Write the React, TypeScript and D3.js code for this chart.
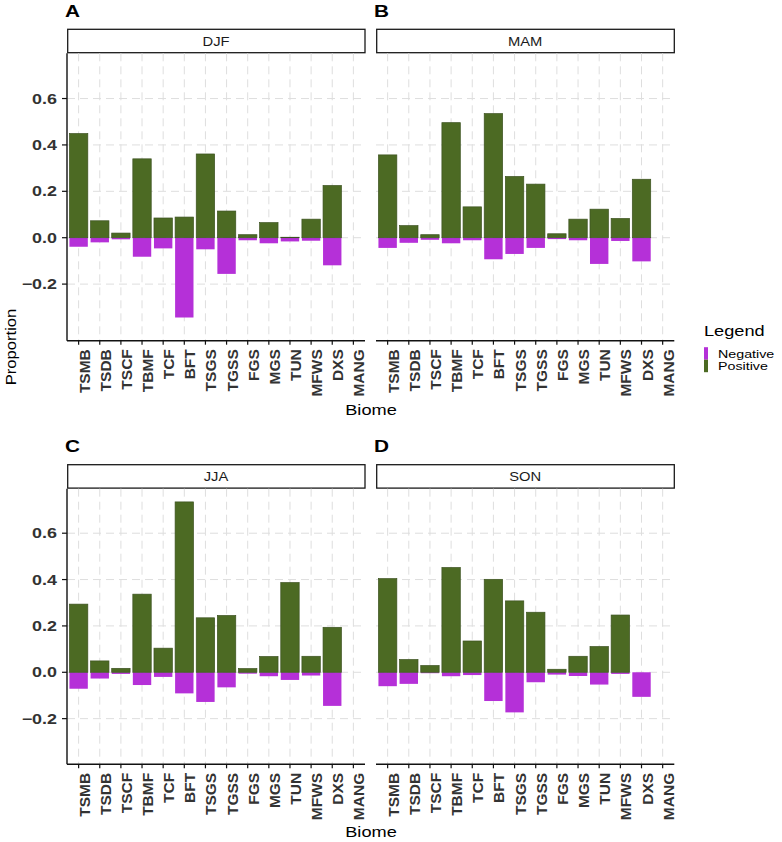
import * as d3 from "d3";

const biomes = ["TSMB", "TSDB", "TSCF", "TBMF", "TCF", "BFT", "TSGS", "TGSS", "FGS", "MGS", "TUN", "MFWS", "DXS", "MANG"];

// proportions, one pair of arrays per season
const djfPositive = [0.449, 0.073, 0.02, 0.34, 0.085, 0.089, 0.361, 0.115, 0.013, 0.065, 0.002, 0.08, 0.225, 0];
const djfNegative = [-0.039, -0.02, -0.007, -0.082, -0.046, -0.344, -0.05, -0.156, -0.011, -0.024, -0.016, -0.013, -0.119, 0];
const mamPositive = [0.357, 0.052, 0.013, 0.496, 0.133, 0.535, 0.264, 0.231, 0.017, 0.08, 0.123, 0.083, 0.252, 0];
const mamNegative = [-0.044, -0.022, -0.009, -0.024, -0.011, -0.093, -0.07, -0.044, -0.006, -0.011, -0.113, -0.014, -0.102, 0];
const jjaPositive = [0.294, 0.049, 0.017, 0.337, 0.104, 0.735, 0.235, 0.245, 0.016, 0.068, 0.387, 0.069, 0.194, 0];
const jjaNegative = [-0.071, -0.027, -0.007, -0.055, -0.02, -0.091, -0.128, -0.065, -0.006, -0.017, -0.033, -0.014, -0.145, 0];
const sonPositive = [0.404, 0.055, 0.029, 0.452, 0.135, 0.401, 0.308, 0.259, 0.013, 0.069, 0.111, 0.247, 0, 0];
const sonNegative = [-0.06, -0.05, -0.004, -0.017, -0.012, -0.124, -0.173, -0.043, -0.01, -0.016, -0.053, -0.007, -0.106, 0];

const yTicks = [-0.2, 0, 0.2, 0.4, 0.6];
const legendLabels = ["Negative", "Positive"];

const POS = "#4c6a23";
const NEG = "#b530d8";
const GRID = "#dedede";
const TEXT = "#333333";
const FONT = "'Liberation Sans', Arial, sans-serif";

type PanelProps = {
  letter: string;
  season: string;
  positive: number[];
  negative: number[];
  x0: number;
  x1: number;
  top: number;
  bottom: number;
  domain: [number, number];
  leftAxis: boolean;
};

function Panel(p: PanelProps) {
  const x = d3.scalePoint<string>().domain(biomes).range([p.x0, p.x1]).padding(0.55);
  const y = d3.scaleLinear().domain(p.domain).range([p.bottom, p.top]);
  const bw = x.step() * 0.87;
  const fmt = d3.format(".1f");
  const stripTop = p.top - 24;

  return (
    <g>
      <text
        transform={`translate(${p.x0 - 2},${p.top - 36.5}) scale(1.26,1)`}
        fontSize={16.5}
        fontWeight="bold"
        fill="#000"
      >
        {p.letter}
      </text>
      <rect x={p.x0 + 0.7} y={stripTop} width={p.x1 - p.x0 - 0.7} height={23.4} fill="#fff" stroke="#1a1a1a" strokeWidth={1.3} />
      <text
        transform={`translate(${(p.x0 + p.x1) / 2},${stripTop + 16.5}) scale(1.18,1)`}
        textAnchor="middle"
        fontSize={12.5}
        fill="#1a1a1a"
      >
        {p.season}
      </text>

      {/* grid */}
      {yTicks.map((t) => (
        <line key={"h" + t} x1={p.x0} x2={p.x1} y1={y(t)} y2={y(t)} stroke={GRID} strokeWidth={1} strokeDasharray="8,5" />
      ))}
      {biomes.map((b) => (
        <line key={"v" + b} x1={x(b)} x2={x(b)} y1={p.top} y2={p.bottom} stroke={GRID} strokeWidth={1} strokeDasharray="8,5" />
      ))}

      {/* bars */}
      {biomes.map((b, i) => (
        <rect
          key={"n" + b}
          x={x(b)! - bw / 2}
          y={y(0)}
          width={bw}
          height={y(p.negative[i]) - y(0)}
          fill={NEG}
        />
      ))}
      {biomes.map((b, i) => (
        <rect
          key={"p" + b}
          x={x(b)! - bw / 2}
          y={y(p.positive[i])}
          width={bw}
          height={y(0) - y(p.positive[i])}
          fill={POS}
          stroke={p.positive[i] === 0 ? "#777" : "#3c5220"}
          strokeWidth={p.positive[i] === 0 ? 1 : 0.7}
        />
      ))}

      {/* axes */}
      <line x1={p.x0} x2={p.x1} y1={p.bottom} y2={p.bottom} stroke="#111" strokeWidth={1.4} />
      {biomes.map((b) => (
        <g key={"t" + b}>
          <line x1={x(b)} x2={x(b)} y1={p.bottom} y2={p.bottom + 4} stroke="#111" strokeWidth={1.2} />
          <text
            transform={`translate(${x(b)! + 11},${p.bottom + 8.5}) rotate(-90)`}
            textAnchor="end"
            fontSize={15.5}
            fontWeight="bold"
            fill={TEXT}
          >
            {b}
          </text>
        </g>
      ))}
      {p.leftAxis && (
        <g>
          <line x1={p.x0} x2={p.x0} y1={p.top} y2={p.bottom} stroke="#111" strokeWidth={1.4} />
          {yTicks.map((t) => (
            <g key={"y" + t}>
              <line x1={p.x0 - 5} x2={p.x0} y1={y(t)} y2={y(t)} stroke="#111" strokeWidth={1.2} />
              <text
                transform={`translate(${p.x0 - 10},${y(t) + 5}) scale(1.28,1)`}
                textAnchor="end"
                fontSize={14}
                fontWeight="bold"
                fill={TEXT}
              >
                {fmt(t)}
              </text>
            </g>
          ))}
        </g>
      )}
    </g>
  );
}

export default function App() {
  const legendColors = d3.scaleOrdinal<string, string>().domain(legendLabels).range([NEG, POS]);
  const legendY = d3.scaleBand().domain(legendLabels).range([347.2, 372.2]);

  return (
    <svg
      width={782}
      height={842}
      style={{ position: "absolute", left: 0, top: 0, background: "#fff", fontFamily: FONT }}
    >
      <rect width={782} height={842} fill="#fff" />
      <Panel letter="A" season="DJF" positive={djfPositive} negative={djfNegative}
        x0={67} x1={365} top={53.3} bottom={340.7} domain={[-0.444, 0.795]} leftAxis />
      <Panel letter="B" season="MAM" positive={mamPositive} negative={mamNegative}
        x0={376} x1={674.3} top={53.3} bottom={340.7} domain={[-0.444, 0.795]} leftAxis={false} />
      <Panel letter="C" season="JJA" positive={jjaPositive} negative={jjaNegative}
        x0={67} x1={365} top={488.7} bottom={764.3} domain={[-0.397, 0.792]} leftAxis />
      <Panel letter="D" season="SON" positive={sonPositive} negative={sonNegative}
        x0={376} x1={674.3} top={488.7} bottom={764.3} domain={[-0.397, 0.792]} leftAxis={false} />

      {/* axis titles */}
      <text transform="translate(15.5,347) rotate(-90) scale(1.11,1)" textAnchor="middle" fontSize={15} fill="#000">
        Proportion
      </text>
      <text transform="translate(371,415) scale(1.3,1)" textAnchor="middle" fontSize={14} fill="#000">
        Biome
      </text>
      <text transform="translate(371,836.5) scale(1.3,1)" textAnchor="middle" fontSize={14} fill="#000">
        Biome
      </text>

      {/* legend */}
      <text transform="translate(704,336) scale(1.3,1)" fontSize={14} fill="#000">
        Legend
      </text>
      {legendLabels.map((l) => (
        <g key={l}>
          <rect x={704} y={legendY(l)} width={4} height={legendY.bandwidth()} fill={legendColors(l)} />
          <text transform={`translate(718,${legendY(l)! + 10.5}) scale(1.24,1)`} fontSize={11.5} fill="#000">
            {l}
          </text>
        </g>
      ))}
    </svg>
  );
}
